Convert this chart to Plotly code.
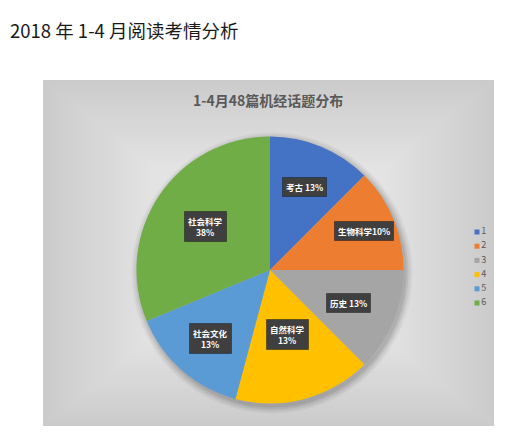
import math
import plotly.graph_objects as go

# chart data
categories = ["1", "2", "3", "4", "5", "6"]
article_counts = [6, 6, 6, 8, 7, 15]
label_names = ["考古", "生物科学", "历史", "自然科学", "社会文化", "社会科学"]
label_pcts = ["13%", "10%", "13%", "13%", "13%", "38%"]
label_breaks = [" ", "", " ", "<br>", "<br>", "<br>"]

colors = ["#4472C4", "#ED7D31", "#A5A5A5", "#FFC000", "#5B9BD5", "#70AD47"]

# window size; the page body has an 8px margin, so the figure starts at (8, 8)
W, H = 518, 443
OFF = 8
FW, FH = W - OFF, H - OFF
FONT = "Noto Sans CJK SC"

# pie geometry in window pixels
cx, cy, r = 270, 270, 133.5
# how far out each data label sits, as share of radius
label_r = [0.67, 0.76, 0.64, 0.50, 0.68, 0.58]


def px(x):
    return (x - OFF) / FW


def py(y):
    return 1 - (y - OFF) / FH


fig = go.Figure()

fig.add_trace(go.Pie(
    labels=categories,
    values=article_counts,
    sort=False,
    direction="clockwise",
    rotation=0,
    marker=dict(colors=colors, line=dict(width=0)),
    textinfo="none",
    hoverinfo="label+value",
    showlegend=False,
    domain=dict(x=[px(cx - r), px(cx + r)], y=[py(cy + r), py(cy - r)]),
))

# legend drawn as a small category column
fig.add_trace(go.Scatter(
    x=[1] * len(categories),
    y=categories,
    mode="markers+text",
    marker=dict(symbol="square", size=5, color=colors),
    text=categories,
    textposition="middle right",
    textfont=dict(family=FONT, size=9, color="#595959"),
    hoverinfo="skip",
    showlegend=False,
    cliponaxis=False,
))

shapes = []

# chart area background, stepped gradient (dark edge -> light centre)
bx0, by0, bx1, by1 = 43, 80, 494, 426
steps = 26
for i in range(steps):
    t = i / (steps - 1)
    g = int(round(203 + (227 - 203) * t))
    ix = i * 4.3
    iy = i * 3.4
    shapes.append(dict(
        type="rect", xref="paper", yref="paper", layer="below",
        x0=px(bx0 + ix), x1=px(bx1 - ix), y0=py(by1 - iy), y1=py(by0 + iy),
        fillcolor="rgb(%d,%d,%d)" % (g, g, g), line=dict(width=0),
    ))

# soft pie shadow
for k, a in [(7, 0.04), (5, 0.05), (3, 0.07), (1, 0.08)]:
    shapes.append(dict(
        type="circle", xref="paper", yref="paper", layer="below",
        x0=px(cx - r - k + 2), x1=px(cx + r + k + 2),
        y0=py(cy + r + k + 3), y1=py(cy - r - k + 3),
        fillcolor="rgba(0,0,0,%s)" % a, line=dict(width=0),
    ))

# thin page border on the right
shapes.append(dict(type="line", xref="paper", yref="paper", x0=px(517), x1=px(517),
                   y0=0, y1=1, line=dict(color="#e6e6e6", width=1)))

annotations = [
    dict(text="2018 年 1-4 月阅读考情分析", xref="paper", yref="paper",
         x=0, y=py(30), xanchor="left", yanchor="middle", showarrow=False,
         font=dict(family=FONT, size=18.5, color="#1a1a1a")),
    dict(text="<b>1-4月48篇机经话题分布</b>", xref="paper", yref="paper",
         x=px(268), y=py(100), xanchor="center", yanchor="middle", showarrow=False,
         font=dict(family=FONT, size=14, color="#595959")),
]

# data labels in dark boxes, placed at each slice's middle angle
total = sum(article_counts)
cum = 0
for i, v in enumerate(article_counts):
    mid = (cum + v / 2) / total * 2 * math.pi
    cum += v
    lx = cx + label_r[i] * r * math.sin(mid)
    ly = cy - label_r[i] * r * math.cos(mid)
    annotations.append(dict(
        text="<b>%s%s%s</b>" % (label_names[i], label_breaks[i], label_pcts[i]),
        xref="paper", yref="paper", x=px(lx), y=py(ly),
        xanchor="center", yanchor="middle", showarrow=False, align="center",
        font=dict(family=FONT, size=8.5, color="#ffffff"),
        bgcolor="#3f3f3f", borderpad=3, bordercolor="rgba(0,0,0,0.35)", borderwidth=1,
    ))

# legend column: 6 rows, ~14px apart, starting near y=232
leg_top, leg_step = 232, 14.2
fig.update_layout(
    width=FW, height=FH,
    margin=dict(l=0, r=0, t=0, b=0),
    paper_bgcolor="#ffffff",
    plot_bgcolor="rgba(0,0,0,0)",
    font=dict(family=FONT),
    shapes=shapes,
    annotations=annotations,
    xaxis=dict(domain=[px(472), px(492)], range=[0, 4], visible=False, fixedrange=True),
    yaxis=dict(domain=[py(leg_top - leg_step / 2 + 6 * leg_step), py(leg_top - leg_step / 2)],
               type="category", range=[5.5, -0.5], visible=False, fixedrange=True),
    showlegend=False,
)

fig.write_html("out.html")
